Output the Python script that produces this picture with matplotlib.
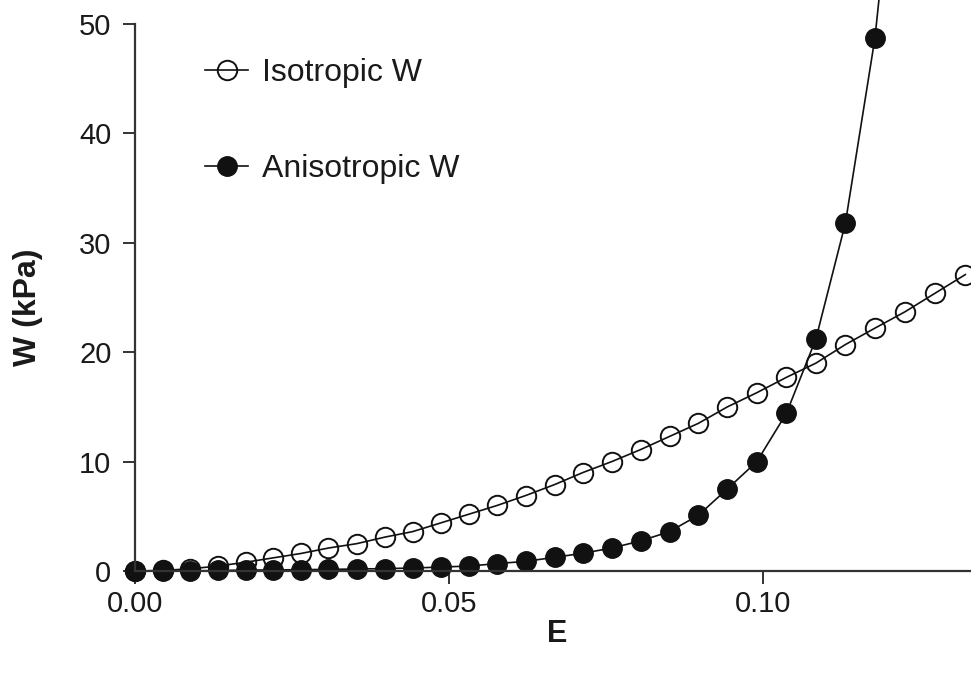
import matplotlib
matplotlib.use('Agg')
import matplotlib.pyplot as plt

plt.rcParams['font.family'] = ['Liberation Sans', 'DejaVu Sans']

# strain values
E = [0.0, 0.0044, 0.0088, 0.0132, 0.0176, 0.0220, 0.0264, 0.0308, 0.0353, 0.0398,
     0.0442, 0.0487, 0.0532, 0.0577, 0.0622, 0.0668, 0.0713, 0.0759, 0.0805, 0.0851,
     0.0897, 0.0943, 0.0990, 0.1037, 0.1084, 0.1131, 0.1178, 0.1226, 0.1274, 0.1322]

# isotropic strain energy (kPa)
W_iso = [0.0, 0.05, 0.2, 0.45, 0.8, 1.2, 1.6, 2.1, 2.5, 3.1,
         3.6, 4.4, 5.2, 6.0, 6.9, 7.9, 9.0, 10.0, 11.1, 12.3,
         13.5, 15.0, 16.3, 17.7, 19.0, 20.7, 22.2, 23.7, 25.4, 27.1]

# anisotropic strain energy (kPa), last value runs off the top
W_aniso = [0.0, 0.0, 0.0, 0.05, 0.08, 0.1, 0.12, 0.15, 0.18, 0.22,
           0.27, 0.36, 0.45, 0.68, 0.88, 1.25, 1.62, 2.1, 2.75, 3.6,
           5.1, 7.5, 10.0, 14.4, 21.2, 31.8, 48.7, 75.0]

fig = plt.figure(figsize=(9.71, 6.75), dpi=100)
ax = fig.add_axes([135 / 971, 104 / 675, 836 / 971, 571 / 675])

ax.plot(E, W_iso, '-o', color='#111111', lw=1.2, ms=14, mfc='none', mew=1.4,
        clip_on=False, label='Isotropic W')
ax.plot(E[:len(W_aniso)], W_aniso, '-o', color='#111111', lw=1.2, ms=14,
        mfc='#111111', mew=1.0, clip_on=False, label='Anisotropic W')

ax.set_xlim(0, 0.1331)
ax.set_ylim(0, 52.2)
ax.set_xticks([0.0, 0.05, 0.10])
ax.set_xticklabels(['0.00', '0.05', '0.10'])
ax.set_yticks([0, 10, 20, 30, 40, 50])

ax.spines['top'].set_visible(False)
ax.spines['right'].set_visible(False)
ax.spines['left'].set_bounds(0, 50)
for s in ['left', 'bottom']:
    ax.spines[s].set_linewidth(1.6)
    ax.spines[s].set_color('#333333')
ax.tick_params(direction='out', length=9, width=1.4, color='#333333',
               labelsize=21, labelcolor='#1a1a1a', pad=8)
ax.tick_params(axis='x', pad=5)

fig.text(557 / 971, 1 - 634 / 675, 'E', fontsize=22, fontweight='bold',
         ha='center', va='center', color='#1a1a1a')
fig.text(28 / 971, 1 - 307 / 675, 'W (kPa)', fontsize=23, fontweight='bold',
         rotation=90, ha='center', va='center', color='#1a1a1a')

leg = ax.legend(loc='upper left', bbox_to_anchor=(205 / 971, 1 - 58 / 675),
                bbox_transform=fig.transFigure, frameon=False, fontsize=23,
                handlelength=1.35, handletextpad=0.45, labelspacing=2.08,
                borderaxespad=0, borderpad=0)
for t in leg.get_texts():
    t.set_color('#1a1a1a')

fig.savefig('out.png', dpi=100)
